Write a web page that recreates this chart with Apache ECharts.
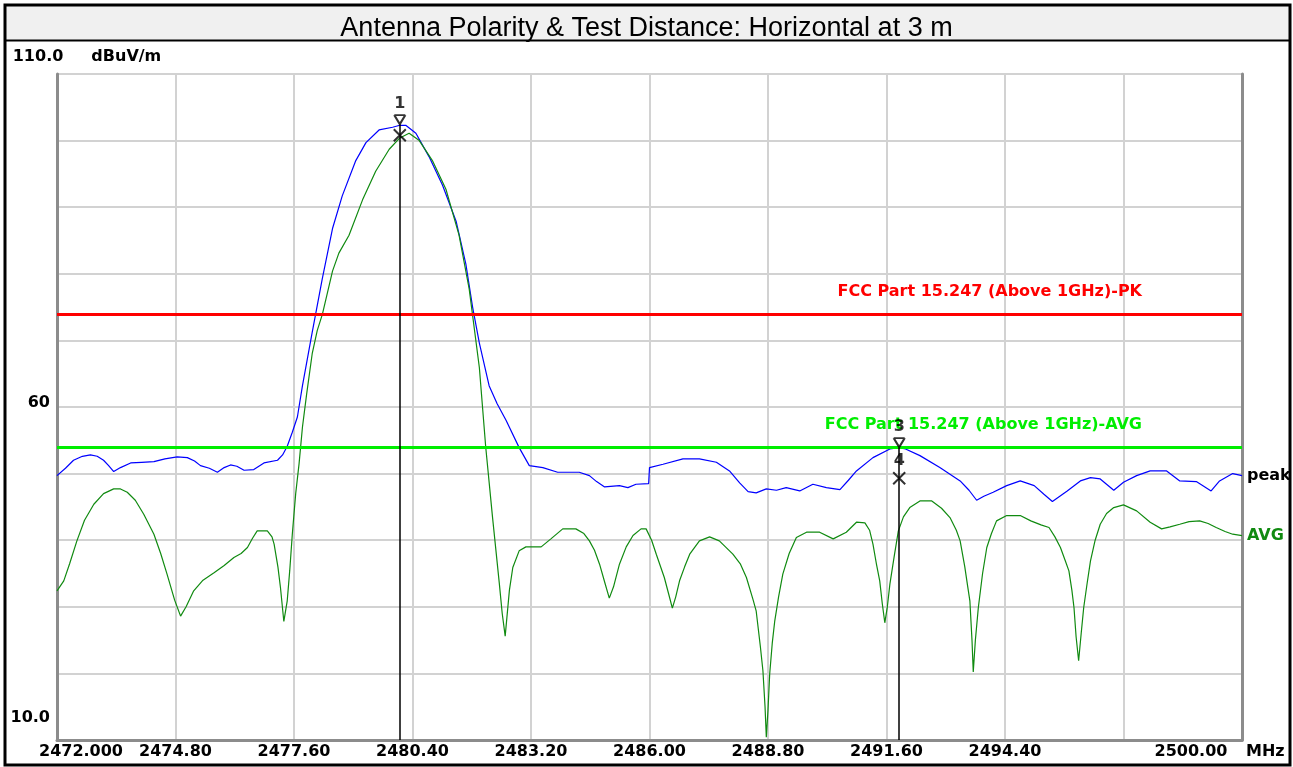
<!DOCTYPE html>
<html>
<head>
<meta charset="utf-8">
<title>Antenna Polarity &amp; Test Distance</title>
<script src="https://cdn.jsdelivr.net/npm/echarts@6/dist/echarts.min.js"></script>
<style>
    html, body { margin: 0; padding: 0; background: #fff; }
    #chart { width: 1293px; height: 767px; }
</style>
</head>
<body>
<div id="chart"></div>
<script>
// x axis runs in MHz above F0 so the 2.8 MHz ticks start at 0
const F0 = 2472;
const STEP = 2.8;
const SPAN = 28;

const xTickLabels = ['2472.000', '2474.80', '2477.60', '2480.40', '2483.20', '2486.00',
    '2488.80', '2491.60', '2494.40', '', '2500.00'];
const yTickValues = [10, 60];
const yTickTexts = ['10.0', '60'];

// peak trace (blue)
const peakFreq = [2472.00, 2472.20, 2472.39, 2472.60, 2472.79, 2472.95, 2473.10, 2473.22, 2473.34, 2473.50,
    2473.74, 2474.00, 2474.29, 2474.55, 2474.84, 2475.08, 2475.25, 2475.39, 2475.60, 2475.79,
    2475.95, 2476.10, 2476.25, 2476.42, 2476.65, 2476.89, 2477.21, 2477.33, 2477.44, 2477.56,
    2477.68, 2477.80, 2478.03, 2478.27, 2478.51, 2478.74, 2479.06, 2479.30, 2479.61, 2479.93,
    2480.10, 2480.24, 2480.48, 2480.79, 2481.11, 2481.43, 2481.66, 2481.82, 2481.98, 2482.21,
    2482.40, 2482.61, 2482.92, 2483.16, 2483.48, 2483.83, 2484.34, 2484.58, 2484.75, 2484.94,
    2485.29, 2485.49, 2485.68, 2485.98, 2486.00, 2486.32, 2486.79, 2487.18, 2487.58, 2487.89,
    2488.13, 2488.33, 2488.52, 2488.76, 2489.00, 2489.23, 2489.55, 2489.86, 2490.18, 2490.50,
    2490.70, 2490.89, 2491.28, 2491.68, 2491.90, 2492.05, 2492.39, 2492.86, 2493.34, 2493.55,
    2493.73, 2493.90, 2494.12, 2494.44, 2494.76, 2495.09, 2495.32, 2495.52, 2495.87, 2496.18,
    2496.42, 2496.65, 2496.97, 2497.20, 2497.51, 2497.83, 2498.22, 2498.53, 2498.92, 2499.27,
    2499.47, 2499.78, 2500.00];
const peakLevel = [49.7, 50.8, 52.0, 52.6, 52.8, 52.6, 52.0, 51.2, 50.3, 50.9,
    51.6, 51.7, 51.8, 52.2, 52.5, 52.4, 51.9, 51.2, 50.8, 50.2,
    50.9, 51.3, 51.1, 50.5, 50.6, 51.6, 52.0, 52.8, 54.1, 56.2,
    58.5, 63.2, 71.2, 79.3, 86.8, 91.7, 97.0, 99.7, 101.6, 102.0,
    102.3, 102.3, 101.1, 97.6, 93.3, 87.9, 81.5, 75.0, 69.6, 63.2,
    60.5, 58.0, 53.9, 51.2, 50.9, 50.2, 50.2, 49.7, 48.8, 48.0,
    48.2, 47.9, 48.4, 48.5, 50.9, 51.4, 52.2, 52.2, 51.7, 50.4,
    48.6, 47.3, 47.1, 47.7, 47.5, 47.9, 47.4, 48.4, 47.9, 47.6,
    49.0, 50.4, 52.4, 53.7, 53.9, 53.7, 52.7, 50.9, 48.9, 47.5,
    46.0, 46.6, 47.2, 48.2, 48.9, 48.2, 46.9, 45.8, 47.4, 48.9,
    49.4, 49.2, 47.5, 48.7, 49.7, 50.4, 50.4, 48.9, 48.8, 47.4,
    48.9, 50.0, 49.7];

// average trace (green)
const avgFreq = [2472.00, 2472.16, 2472.30, 2472.47, 2472.65, 2472.87, 2473.10, 2473.34, 2473.50, 2473.66,
    2473.85, 2474.05, 2474.29, 2474.45, 2474.60, 2474.78, 2474.92, 2475.05, 2475.23, 2475.45,
    2475.71, 2475.95, 2476.18, 2476.35, 2476.50, 2476.62, 2476.73, 2476.97, 2477.08, 2477.13,
    2477.22, 2477.28, 2477.36, 2477.44, 2477.50, 2477.56, 2477.64, 2477.72, 2477.80, 2477.90,
    2478.03, 2478.15, 2478.27, 2478.51, 2478.66, 2478.90, 2479.22, 2479.53, 2479.85, 2480.10,
    2480.32, 2480.56, 2480.87, 2481.19, 2481.50, 2481.74, 2481.98, 2482.13, 2482.29, 2482.45,
    2482.52, 2482.59, 2482.69, 2482.77, 2482.92, 2483.08, 2483.44, 2483.67, 2483.95, 2484.26,
    2484.45, 2484.58, 2484.70, 2484.82, 2484.95, 2485.05, 2485.15, 2485.29, 2485.45, 2485.61,
    2485.80, 2485.92, 2486.05, 2486.16, 2486.35, 2486.45, 2486.54, 2486.62, 2486.71, 2486.83,
    2486.95, 2487.18, 2487.42, 2487.65, 2487.97, 2488.15, 2488.29, 2488.45, 2488.52, 2488.62,
    2488.68, 2488.73, 2488.76, 2488.80, 2488.84, 2488.90, 2488.96, 2489.05, 2489.15, 2489.30,
    2489.47, 2489.71, 2490.02, 2490.34, 2490.65, 2490.89, 2491.09, 2491.20, 2491.28, 2491.36,
    2491.44, 2491.50, 2491.56, 2491.62, 2491.68, 2491.78, 2491.88, 2492.00, 2492.15, 2492.39,
    2492.67, 2492.90, 2493.10, 2493.25, 2493.34, 2493.45, 2493.52, 2493.57, 2493.62, 2493.65,
    2493.70, 2493.77, 2493.87, 2493.97, 2494.08, 2494.20, 2494.44, 2494.76, 2495.01, 2495.25,
    2495.44, 2495.58, 2495.71, 2495.82, 2495.91, 2495.98, 2496.03, 2496.08, 2496.14, 2496.20,
    2496.26, 2496.34, 2496.42, 2496.53, 2496.65, 2496.80, 2496.97, 2497.20, 2497.51, 2497.83,
    2498.10, 2498.30, 2498.53, 2498.75, 2499.00, 2499.20, 2499.39, 2499.60, 2499.78, 2500.00];
const avgLevel = [32.4, 33.9, 36.5, 39.9, 43.0, 45.4, 47.0, 47.7, 47.7, 47.2,
    46.0, 43.9, 40.9, 38.0, 34.9, 31.0, 28.6, 30.0, 32.4, 34.0,
    35.1, 36.2, 37.4, 38.0, 38.9, 40.3, 41.4, 41.4, 40.5, 39.4,
    36.0, 32.9, 27.8, 30.9, 35.5, 40.9, 47.0, 51.5, 57.0, 62.0,
    68.0, 71.5, 73.9, 80.4, 83.1, 85.8, 91.1, 95.4, 98.7, 100.4,
    101.1, 100.0, 97.0, 92.7, 85.8, 77.7, 65.9, 54.0, 43.5, 33.6,
    29.0, 25.6, 32.5, 35.9, 38.4, 39.0, 39.0, 40.2, 41.7, 41.7,
    41.0, 39.9, 38.5, 36.4, 33.5, 31.3, 33.0, 36.4, 39.0, 40.7,
    41.7, 41.7, 40.0, 37.9, 34.4, 32.0, 29.8, 31.5, 33.9, 36.0,
    37.9, 39.9, 40.5, 39.9, 37.9, 36.4, 34.4, 31.0, 29.4, 24.0,
    20.4, 15.0, 10.4, 14.5, 19.9, 24.5, 27.9, 31.5, 34.9, 38.0,
    40.4, 41.2, 41.2, 40.2, 41.2, 42.7, 42.6, 41.5, 39.4, 36.5,
    33.9, 30.5, 27.6, 30.0, 33.4, 37.5, 41.4, 43.5, 44.9, 45.9,
    45.9, 44.8, 43.4, 41.5, 39.9, 36.0, 33.0, 30.9, 25.0, 20.2,
    25.0, 29.9, 35.0, 38.9, 41.0, 42.9, 43.7, 43.7, 42.9, 42.3,
    41.9, 40.5, 38.9, 37.0, 35.4, 32.5, 29.9, 25.5, 21.9, 26.0,
    29.9, 33.5, 36.9, 40.0, 42.4, 44.0, 44.9, 45.3, 44.4, 42.7,
    41.7, 42.0, 42.4, 42.8, 42.9, 42.5, 41.9, 41.3, 40.9, 40.7];

// limit lines
const limitNames = ['FCC Part 15.247 (Above 1GHz)-PK', 'FCC Part 15.247 (Above 1GHz)-AVG'];
const limitLevels = [74, 54];
const limitColors = ['#ff0000', '#00ee00'];

// markers 1..4 (peak markers carry the vertical line)
const markerNames = ['1', '2', '3', '4'];
const markerShowName = [true, false, true, true];
const markerFreq = [2480.10, 2480.10, 2491.90, 2491.90];
const markerLevel = [102.4, 100.8, 53.9, 49.3];
const markerKind = ['pk', 'av', 'pk', 'av'];

const FONT = 'DejaVu Sans';
const CHEVRON = 'path://M0,0L10,0M0,0L5,8L10,0';
const CROSS = 'path://M0,0L10,10M0,10L10,0';

function toXY(freqs, levels) {
    let out = [];
    for (let i = 0; i < freqs.length; ++i)
        out.push([+(freqs[i] - F0).toFixed(3), levels[i]]);
    return out;
}

let chart = echarts.init(document.getElementById('chart'));

let markerData = [];
let markerLines = [];
for (let i = 0; i < markerNames.length; ++i) {
    let x = +(markerFreq[i] - F0).toFixed(3);
    let isPk = markerKind[i] === 'pk';
    markerData.push({
        value: [x, markerLevel[i]],
        symbol: isPk ? CHEVRON : CROSS,
        symbolSize: isPk ? [11, 9] : [12, 12],
        symbolOffset: isPk ? [0, -5] : [0, 0],
        label: { show: markerShowName[i], formatter: markerNames[i] }
    });
    if (isPk)
        markerLines.push([{ coord: [x, markerLevel[i]] }, { coord: [x, 10] }]);
}

let limitLines = [];
for (let i = 0; i < limitNames.length; ++i) {
    limitLines.push({
        yAxis: limitLevels[i],
        lineStyle: { color: limitColors[i], width: 3, type: 'solid' },
        label: { formatter: limitNames[i], color: limitColors[i] }
    });
}

let option = {
    animation: false,
    backgroundColor: '#ffffff',
    title: {
        text: 'Antenna Polarity & Test Distance: Horizontal at 3 m',
        left: 'center',
        top: 10,
        textStyle: { fontFamily: 'Liberation Sans', fontWeight: 'normal', fontSize: 27, color: '#000' }
    },
    graphic: [
        { type: 'rect', z: -1, shape: { x: 5, y: 5, width: 1285, height: 36 }, style: { fill: '#f0f0f0' } },
        { type: 'line', shape: { x1: 5, y1: 40.5, x2: 1290, y2: 40.5 }, style: { stroke: '#000', lineWidth: 2 } },
        { type: 'rect', shape: { x: 5, y: 5, width: 1285, height: 760 }, style: { fill: 'none', stroke: '#000', lineWidth: 3 } }
    ],
    grid: { left: 57, right: 51, top: 74, bottom: 27 },
    xAxis: {
        type: 'value',
        min: 0,
        max: SPAN,
        interval: STEP,
        name: 'MHz',
        nameLocation: 'end',
        nameGap: 4,
        nameTextStyle: { fontFamily: FONT, fontWeight: 'bold', fontSize: 16, color: '#000',
            align: 'left', verticalAlign: 'top', padding: [4, 0, 0, 0] },
        axisLine: { show: true, lineStyle: { color: '#8c8c8c', width: 3 } },
        axisTick: { show: false },
        splitLine: { show: true, lineStyle: { color: '#d2d2d2', width: 2 } },
        axisLabel: {
            margin: 4,
            fontFamily: FONT, fontWeight: 'bold', fontSize: 16, color: '#000',
            formatter: function (v) {
                let idx = Math.round(v / STEP);
                let txt = xTickLabels[idx] || '';
                if (idx === 0) return '{first|' + txt + '}';
                if (idx === xTickLabels.length - 1) return '{last|' + txt + '}';
                return txt;
            },
            rich: {
                first: { padding: [0, 0, 0, 48] },
                last: { padding: [0, 102, 0, 0] }
            }
        }
    },
    yAxis: [{
        type: 'value',
        min: 10,
        max: 110,
        interval: 10,
        name: '{a|110.0}{b|dBuV/m}',
        nameLocation: 'end',
        nameGap: 17,
        nameTextStyle: {
            fontFamily: FONT, fontWeight: 'bold', fontSize: 16, color: '#000',
            align: 'center', verticalAlign: 'middle', padding: [0, 0, 0, 60],
            rich: { a: {}, b: { padding: [0, 0, 0, 28] } }
        },
        axisLine: { show: true, lineStyle: { color: '#8c8c8c', width: 3 } },
        axisTick: { show: false },
        splitLine: { show: true, lineStyle: { color: '#d2d2d2', width: 2 } },
        axisLabel: {
            margin: 7,
            fontFamily: FONT, fontWeight: 'bold', fontSize: 16, color: '#000',
            formatter: function (v) {
                let idx = yTickValues.indexOf(v);
                if (idx < 0) return '';
                return '{t' + v + '|' + yTickTexts[idx] + '}';
            },
            rich: {
                t60: { padding: [0, 0, 8, 0] },
                t10: { padding: [0, 0, 44, 0] }
            }
        }
    }, {
        type: 'value',
        position: 'right',
        min: 10,
        max: 110,
        interval: 10,
        axisLine: { show: true, lineStyle: { color: '#8c8c8c', width: 3 } },
        axisTick: { show: false },
        axisLabel: { show: false },
        splitLine: { show: false }
    }],
    series: [
        {
            name: 'limits',
            type: 'line',
            data: [],
            markLine: {
                silent: true,
                symbol: 'none',
                animation: false,
                label: {
                    position: 'insideEndTop',
                    distance: [100, 14],
                    fontFamily: FONT, fontWeight: 'bold', fontSize: 16
                },
                data: limitLines
            }
        },
        {
            name: 'peak',
            type: 'line',
            data: toXY(peakFreq, peakLevel),
            showSymbol: false,
            symbol: 'none',
            lineStyle: { color: '#0000ff', width: 1.2 },
            itemStyle: { color: '#0000ff' },
            endLabel: { show: true, formatter: 'peak', color: '#000', distance: 5,
                fontFamily: FONT, fontWeight: 'bold', fontSize: 16 }
        },
        {
            name: 'AVG',
            type: 'line',
            data: toXY(avgFreq, avgLevel),
            showSymbol: false,
            symbol: 'none',
            lineStyle: { color: '#108a10', width: 1.2 },
            itemStyle: { color: '#108a10' },
            endLabel: { show: true, formatter: 'AVG', color: '#108a10', distance: 5,
                fontFamily: FONT, fontWeight: 'bold', fontSize: 16 }
        },
        {
            name: 'markers',
            type: 'scatter',
            z: 5,
            data: markerData,
            itemStyle: { color: 'rgba(0,0,0,0)', borderColor: '#000', borderWidth: 2 },
            label: { position: 'top', distance: 2, color: '#000', fontFamily: FONT, fontWeight: 'bold', fontSize: 16 },
            markLine: {
                silent: true,
                symbol: 'none',
                animation: false,
                label: { show: false },
                lineStyle: { color: '#000', width: 1.5, type: 'solid' },
                data: markerLines
            }
        }
    ]
};

chart.setOption(option);
</script>
</body>
</html>
